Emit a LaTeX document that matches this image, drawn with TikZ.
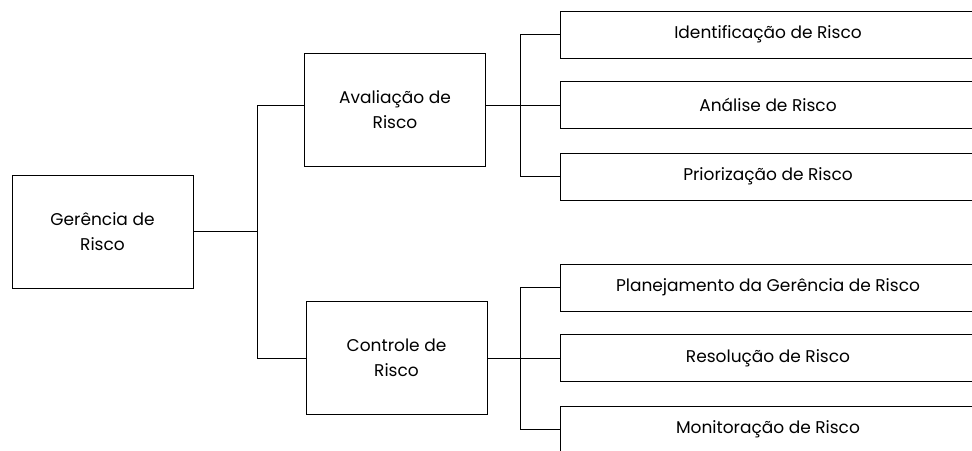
\documentclass[tikz,border=0pt]{standalone}
\usepackage{fontspec}
\setmainfont{Poppins}
\usetikzlibrary{calc}
\tikzstyle{big}=[draw,line width=1pt,minimum width=181pt,minimum height=113pt,align=center,inner sep=0pt]
\tikzstyle{leaf}=[draw,line width=1pt,minimum width=416pt,minimum height=47pt,inner sep=0pt]
\tikzstyle{link}=[line width=1pt]

\begin{document}
\begin{tikzpicture}[x=1pt,y=-1pt,font=\fontsize{17}{25}\selectfont]
     \useasboundingbox (0,0) rectangle (972,450);
     \clip (0,0) rectangle (972,450);
     \node [big] (ger) at (102.5,231.5) {Gerência de\\Risco};
     \node [big] (ava) at (395,109.5) {Avaliação de\\Risco};
     \node [big] (ctl) at (396.5,358) {Controle de\\Risco};
     % fases da avaliacao
     \node [leaf] (ident) at (768,34.5) {Identificação de Risco};
     \node [leaf, below of=ident, node distance=70.5pt] (anal) {Análise de Risco};
     \node [leaf, below of=anal, node distance=71.5pt] (prio) {Priorização de Risco};
     % fases do controle
     \node [leaf] (plan) at (768,287.5) {Planejamento da Gerência de Risco};
     \node [leaf, below of=plan, node distance=70.5pt] (reso) {Resolução de Risco};
     \node [leaf, below of=reso, node distance=71.5pt] (moni) {Monitoração de Risco};
     \coordinate (tronco) at (257,0);
     \coordinate (ramo) at (520,0);
     \draw [link] (ger.east) -- (ger.east -| tronco);
     \draw [link] (ava.west |- anal.west) -| (tronco |- ctl.west) -- (ctl.west);
     \draw [link] (ava.east |- anal.west) -- (anal.west);
     \draw [link] (ident.west) -| (ramo |- prio.west) -- (prio.west);
     \draw [link] (ctl.east) -- (reso.west);
     \draw [link] (plan.west) -| (ramo |- moni.west) -- (moni.west);
    \end{tikzpicture}
\end{document}
